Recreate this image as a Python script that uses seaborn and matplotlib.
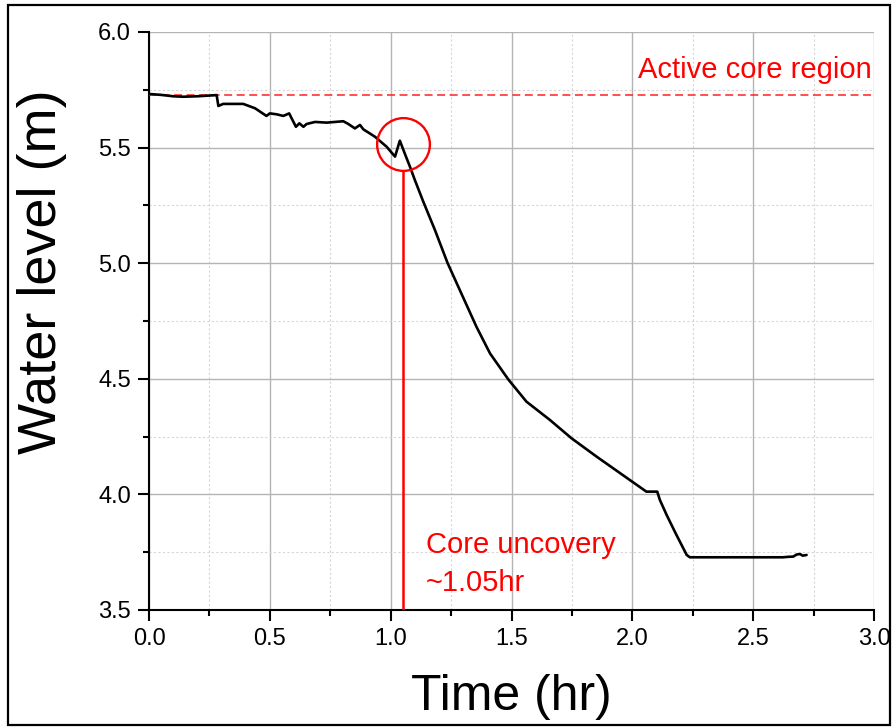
import matplotlib
matplotlib.use("Agg")
import matplotlib.pyplot as plt
from matplotlib.patches import Rectangle
from matplotlib.ticker import MultipleLocator
import seaborn as sns
import pandas as pd

# ---- data ----
time_hr = [0, 0.05, 0.1, 0.142, 0.2, 0.28, 0.287, 0.307, 0.39, 0.439, 0.466, 0.486,
           0.5, 0.528, 0.556, 0.58, 0.59, 0.608, 0.622, 0.639, 0.652, 0.687, 0.735,
           0.804, 0.825, 0.852, 0.873, 0.887, 0.935, 0.983, 1.018, 1.038, 1.06,
           1.08, 1.100, 1.135, 1.183, 1.235, 1.286, 1.355, 1.411, 1.487, 1.562,
           1.659, 1.748, 1.85, 1.99, 2.058, 2.09, 2.103, 2.114, 2.142, 2.18, 2.225,
           2.238, 2.4, 2.624, 2.645, 2.666, 2.68, 2.694, 2.705, 2.721]
water_level_m = [5.732, 5.728, 5.722, 5.72, 5.722, 5.727, 5.68, 5.689, 5.689, 5.67,
                 5.651, 5.637, 5.648, 5.644, 5.637, 5.648, 5.627, 5.59, 5.605, 5.59,
                 5.602, 5.611, 5.608, 5.614, 5.602, 5.583, 5.598, 5.579, 5.547,
                 5.504, 5.461, 5.53, 5.47, 5.417, 5.36, 5.266, 5.144, 5.002, 4.884,
                 4.725, 4.61, 4.497, 4.401, 4.322, 4.243, 4.165, 4.062, 4.012, 4.012,
                 4.012, 3.976, 3.911, 3.83, 3.738, 3.728, 3.728, 3.728, 3.73, 3.731,
                 3.74, 3.742, 3.735, 3.738]

active_core_level = 5.727
uncovery_time = 1.05
circle_center = (1.052, 5.517)
uncovery_line_top = 5.40

x_ticks = [0.0, 0.5, 1.0, 1.5, 2.0, 2.5, 3.0]
y_ticks = [3.5, 4.0, 4.5, 5.0, 5.5, 6.0]

df = pd.DataFrame({"Time (hr)": time_hr, "Water level (m)": water_level_m})

sns.set_style("ticks")
plt.rcParams["font.family"] = ["Liberation Sans", "DejaVu Sans"]
plt.rcParams["text.color"] = "black"

fig = plt.figure(figsize=(8.92, 7.27), dpi=100)
ax = fig.add_axes([149/892, 1-610/727, (874-149)/892, (610-32)/727])

sns.lineplot(data=df, x="Time (hr)", y="Water level (m)", ax=ax, color="black",
             linewidth=1.9, estimator=None, sort=False, zorder=4)

ax.axhline(active_core_level, color="#ff2020", linewidth=1.1, dashes=(5.2, 3), zorder=3)
ax.vlines(uncovery_time, 3.5, uncovery_line_top, color="red", linewidth=1.8, zorder=5)
ax.plot([circle_center[0]], [circle_center[1]], marker="o", markersize=38,
        markerfacecolor="none", markeredgecolor="red", markeredgewidth=1.7,
        linestyle="none", zorder=5)

ax.text(2.99, 5.80, "Active core region", color="red", fontsize=21,
        ha="right", va="baseline")
ax.text(1.146, 3.747, "Core uncovery", color="red", fontsize=21,
        ha="left", va="baseline")
ax.text(1.146, 3.582, "~1.05hr", color="red", fontsize=21,
        ha="left", va="baseline")

ax.set_xlim(0, 3.0)
ax.set_ylim(3.5, 6.0)
ax.set_xticks(x_ticks)
ax.set_yticks(y_ticks)
ax.set_xticklabels([f"{v:.1f}" for v in x_ticks])
ax.set_yticklabels([f"{v:.1f}" for v in y_ticks])
ax.xaxis.set_minor_locator(MultipleLocator(0.25))
ax.yaxis.set_minor_locator(MultipleLocator(0.25))

ax.grid(which="major", color="#b4b4b4", linewidth=1.0, linestyle="-")
ax.grid(which="minor", color="#d6d6d6", linewidth=0.8, linestyle=(0, (2, 2)))
ax.set_axisbelow(True)

for side in ["top", "right"]:
    ax.spines[side].set_visible(False)
for side in ["left", "bottom"]:
    ax.spines[side].set_linewidth(1.5)
    ax.spines[side].set_color("black")

ax.tick_params(which="major", direction="out", length=8, width=1.5,
               labelsize=17, pad=5, colors="black", labelcolor="black")
ax.tick_params(which="minor", direction="out", length=4, width=1.5, colors="black")

ax.set_xlabel("")
ax.set_ylabel("")
fig.text(511/892, 1-710/727, "Time (hr)", fontsize=36, ha="center", va="baseline",
         color="black")
fig.text(42/892, 1-272/727, "Water level (m)", fontsize=39, ha="center",
         va="center", rotation=90, color="black")

fig.patches.append(Rectangle((8/892, 2/727), (890-8)/892, (725-5)/727,
                             transform=fig.transFigure, fill=False,
                             edgecolor="black", linewidth=1.6))

fig.savefig("out.png", dpi=100)
